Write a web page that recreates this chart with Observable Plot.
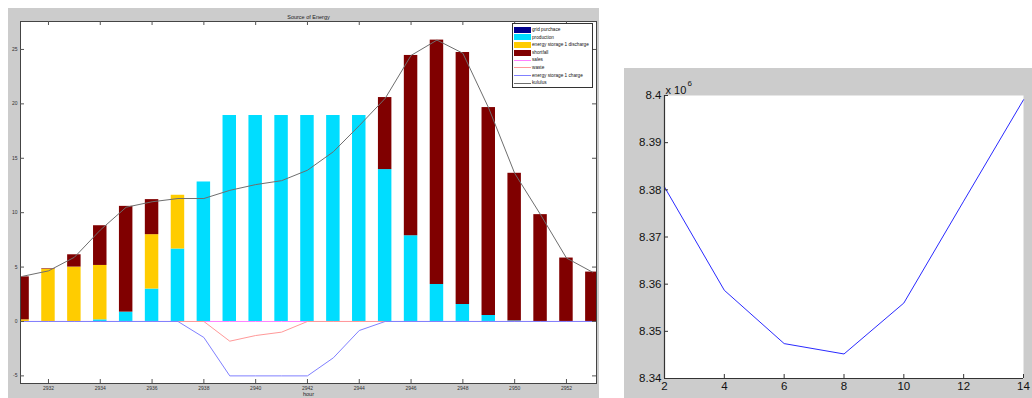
<!DOCTYPE html>
<html>
<head>
<meta charset="utf-8">
<script src="https://cdn.jsdelivr.net/npm/d3@7"></script>
<script src="https://cdn.jsdelivr.net/npm/@observablehq/plot@0.6"></script>
<style>
  html, body { margin: 0; padding: 0; background: #fff; }
  #wrap { position: relative; width: 1032px; height: 398px; overflow: hidden; font-family: "Liberation Sans", Arial, sans-serif; }
  .panel { position: absolute; background: #cccccc; }
  .panel svg { display: block; }
  #legend { position: absolute; left: 512px; top: 23px; width: 81px; height: 65px; background: #fff;
            border: 1px solid #333; box-sizing: border-box; font-size: 4.7px; color: #111; padding-top: 2px; }
  #legend .row { position: relative; height: 7.6px; line-height: 7.6px; white-space: nowrap; }
  #legend .sw { position: absolute; left: 1px; width: 17px; }
  #legend .lbl { position: absolute; left: 19px; }
</style>
</head>
<body>
<div id="wrap">
  <div class="panel" id="left" style="left:8px; top:8px; width:591px; height:390px;"></div>
  <div class="panel" id="right" style="left:624px; top:68px; width:408px; height:330px;"></div>
  <div id="legend"></div>
</div>
<script>
// ---------- Left chart data ----------
const hours = [2931, 2932, 2933, 2934, 2935, 2936, 2937, 2938, 2939, 2940, 2941, 2942,
               2943, 2944, 2945, 2946, 2947, 2948, 2949, 2950, 2951, 2952, 2953];
const gridPurchase = [0,0,0,0,0,0,0,0,0,0,0,0,0,0,0,0,0,0,0,0,0,0,0];
const production   = [0, 0, 0, 0.15, 0.86, 2.98, 6.66, 12.82, 18.93, 18.93, 18.93, 18.93,
                      18.93, 18.93, 13.96, 7.88, 3.40, 1.56, 0.55, 0.05, 0, 0, 0];
const discharge    = [0.15, 4.80, 5.00, 5.00, 0, 5.00, 4.94, 0, 0, 0, 0, 0,
                      0, 0, 0, 0, 0, 0, 0, 0, 0, 0, 0];
const shortfall    = [3.95, 0.05, 1.13, 3.65, 9.72, 3.22, 0, 0, 0, 0, 0, 0,
                      0, 0, 6.62, 16.57, 22.46, 23.16, 19.11, 13.57, 9.82, 5.83, 4.54];
const sales        = [0,0,0,0,0,0,0,0,0,0,0,0,0,0,0,0,0,0,0,0,0,0,0];
const waste        = [0, 0, 0, 0, 0, 0, 0, 0, -1.81, -1.29, -0.98, 0,
                      0, 0, 0, 0, 0, 0, 0, 0, 0, 0, 0];
const charge       = [0, 0, 0, 0, 0, 0, 0, -1.47, -5, -5, -5, -5,
                      -3.34, -0.83, 0, 0, 0, 0, 0, 0, 0, 0, 0];
const kululus      = [4.15, 4.65, 5.9, 8.4, 10.5, 11.0, 11.3, 11.3, 12.05, 12.58, 12.94, 13.9,
                      15.6, 18.0, 20.5, 24.45, 25.86, 24.65, 19.6, 13.62, 9.82, 5.83, 4.54];
const leftXTicks = [2932, 2934, 2936, 2938, 2940, 2942, 2944, 2946, 2948, 2950, 2952];
const leftYTicks = [-5, 0, 5, 10, 15, 20, 25];
const seriesNames = ["grid purchace", "production", "energy storage 1 discharge", "shortfall",
                     "sales", "waste", "energy storage 1 charge", "kululus"];
const seriesColors = ["#00008c", "#00ddff", "#ffcc00", "#800000", "#ff80ff", "#ff9999", "#8080ff", "#6e6e6e"];

// ---------- Right chart data ----------
const param = [2, 4, 6, 8, 10, 12, 14];
const cost = [8.3806e6, 8.3587e6, 8.3474e6, 8.3452e6, 8.3560e6, 8.3776e6, 8.3991e6];
const rightXTicks = [2, 4, 6, 8, 10, 12, 14];
const rightYLabels = ["8.34", "8.35", "8.36", "8.37", "8.38", "8.39", "8.4"];

// ---------- Build left chart ----------
const barSeries = [[seriesNames[0], gridPurchase], [seriesNames[1], production],
                   [seriesNames[2], discharge], [seriesNames[3], shortfall]];
const lineSeries = [[seriesNames[4], sales], [seriesNames[5], waste],
                    [seriesNames[6], charge], [seriesNames[7], kululus]];
const barRows = [];
hours.forEach((h, i) => barSeries.forEach(([name, vals]) => barRows.push({hour: h, series: name, value: vals[i]})));
const lineRows = [];
lineSeries.forEach(([name, vals]) => hours.forEach((h, i) => lineRows.push({hour: h, series: name, value: vals[i]})));

const LW = 591, LH = 390, LML = 12, LMR = 3, LMT = 13, LMB = 15;
const lxDom = [2930.92, 2953.16], lyDom = [-5.7, 27.57];
const lxPer = (lxDom[1] - lxDom[0]) / (LW - LML - LMR);
const lyPer = (lyDom[1] - lyDom[0]) / (LH - LMT - LMB);
const tk = 4;

const left = Plot.plot({
  width: LW, height: LH, marginLeft: LML, marginRight: LMR, marginTop: LMT, marginBottom: LMB,
  style: {background: "transparent", fontFamily: "Liberation Sans, Arial, sans-serif"},
  x: {domain: lxDom, axis: null, label: null},
  y: {domain: lyDom, axis: null, label: null},
  color: {domain: seriesNames, range: seriesColors},
  marks: [
    Plot.frame({fill: "white", stroke: null}),
    Plot.rectY(barRows, {x1: d => d.hour - 0.26, x2: d => d.hour + 0.26, y: "value", fill: "series", clip: true}),
    Plot.line(lineRows, {x: "hour", y: "value", z: "series", stroke: "series", strokeWidth: 1, clip: true}),
    Plot.frame({stroke: "#444", strokeWidth: 1}),
    Plot.ruleX(leftXTicks, {y1: lyDom[0], y2: lyDom[0] + tk * lyPer, stroke: "#555"}),
    Plot.ruleX(leftXTicks, {y1: lyDom[1], y2: lyDom[1] - tk * lyPer, stroke: "#555"}),
    Plot.ruleY(leftYTicks, {x1: lxDom[0], x2: lxDom[0] + tk * lxPer, stroke: "#555"}),
    Plot.ruleY(leftYTicks, {x1: lxDom[1], x2: lxDom[1] - tk * lxPer, stroke: "#555"}),
    Plot.axisX(leftXTicks, {tickSize: 0, tickPadding: 3, fontSize: 5, fill: "#333", label: null, tickFormat: d => String(d)}),
    Plot.axisY(leftYTicks, {tickSize: 0, tickPadding: 3, fontSize: 5, fill: "#333", label: null, tickFormat: d => String(d)}),
    Plot.text(["Source of Energy"], {frameAnchor: "top", dy: -6, fontSize: 5.5, fill: "#222"}),
    Plot.text(["hour"], {frameAnchor: "bottom", dy: 12, fontSize: 5.5, fill: "#222"})
  ]
});
document.getElementById("left").appendChild(left);

// legend
const legend = document.getElementById("legend");
seriesNames.forEach((name, i) => {
  const row = document.createElement("div");
  row.className = "row";
  const sw = document.createElement("div");
  sw.className = "sw";
  if (i < 4) { sw.style.top = "0.8px"; sw.style.height = "6px"; sw.style.background = seriesColors[i]; }
  else { sw.style.top = "3.5px"; sw.style.height = "1px"; sw.style.background = seriesColors[i]; }
  const lbl = document.createElement("div");
  lbl.className = "lbl";
  lbl.textContent = name;
  row.appendChild(sw); row.appendChild(lbl);
  legend.appendChild(row);
});

// ---------- Build right chart ----------
const RW = 408, RH = 330, RML = 40, RMR = 9, RMT = 27, RMB = 20;
const rxDom = [2, 14];
const rightYTicks = rightYLabels.map(s => Math.round(+s * 1e6));
const ryDom = [rightYTicks[0], rightYTicks[rightYTicks.length - 1]];
const rxPer = (rxDom[1] - rxDom[0]) / (RW - RML - RMR);
const ryPer = (ryDom[1] - ryDom[0]) / (RH - RMT - RMB);
const rows2 = param.map((p, i) => ({p, c: cost[i]}));

const right = Plot.plot({
  width: RW, height: RH, marginLeft: RML, marginRight: RMR, marginTop: RMT, marginBottom: RMB,
  style: {background: "transparent", fontFamily: "Liberation Sans, Arial, sans-serif"},
  x: {domain: rxDom, axis: null, label: null},
  y: {domain: ryDom, axis: null, label: null},
  marks: [
    Plot.frame({fill: "white", stroke: null}),
    Plot.line(rows2, {x: "p", y: "c", stroke: "#2a2aff", strokeWidth: 1}),
    Plot.ruleX([rxDom[0]], {stroke: "#333", strokeWidth: 1.2}),
    Plot.ruleY([ryDom[0]], {stroke: "#333", strokeWidth: 1.2}),
    Plot.ruleX(rightXTicks, {y1: ryDom[0], y2: ryDom[0] + 4 * ryPer, stroke: "#333"}),
    Plot.ruleY(rightYTicks, {x1: rxDom[0], x2: rxDom[0] + 4 * rxPer, stroke: "#333"}),
    Plot.axisX(rightXTicks, {tickSize: 0, tickPadding: 3, fontSize: 11.5, fill: "#111", label: null, tickFormat: d => String(d)}),
    Plot.axisY(rightYTicks, {tickSize: 0, tickPadding: 3, fontSize: 11.5, fill: "#111", label: null,
      tickFormat: d => rightYLabels[rightYTicks.indexOf(d)]}),
    Plot.text(["x 10"], {frameAnchor: "top-left", textAnchor: "start", dx: 1, dy: -9, fontSize: 11, fill: "#111"}),
    Plot.text(["6"], {frameAnchor: "top-left", textAnchor: "start", dx: 23, dy: -15, fontSize: 8, fill: "#111"})
  ]
});
document.getElementById("right").appendChild(right);
</script>
</body>
</html>
